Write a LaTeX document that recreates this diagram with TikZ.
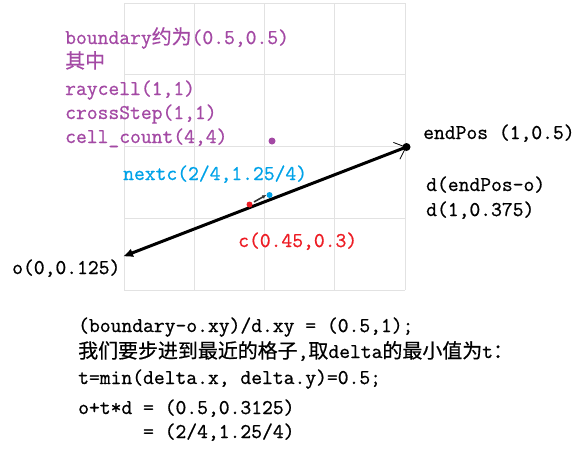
\documentclass[tikz,border=0pt]{standalone}
\usepackage{fontspec}
\usepackage{tikz}
\usetikzlibrary{arrows.meta,calc}
\setmonofont{Latin Modern Mono}[FakeBold=0.8]
\newfontfamily\cjk{Noto Sans CJK SC}[Scale=0.95,FakeBold=0.6]
\newcommand{\zh}[1]{{\cjk #1}}
\definecolor{labelpurple}{HTML}{A349A4}
\definecolor{labelblue}{HTML}{00A2E8}
\definecolor{labelred}{HTML}{ED1C24}
\definecolor{gridgray}{HTML}{E2E2E2}

\begin{document}
\begin{tikzpicture}[x=1pt,y=-1pt,
  txt/.style={anchor=west,inner sep=0pt,text height=15pt,text depth=5pt,
    font=\ttfamily\fontsize{21}{24}\selectfont},
  gridline/.style={gridgray,line width=0.9pt},
  dot/.style={circle,inner sep=0pt,minimum size=6pt,fill=#1}]
  \useasboundingbox (0,0) rectangle (576,453);

  % grid 4x4
  \foreach \i in {0,...,4}
    \draw[gridline] ({124+70.25*\i},3) -- ({124+70.25*\i},290);
  \foreach \j in {0,...,4}
    \draw[gridline] (124,{3+71.75*\j}) -- (405,{3+71.75*\j});

  % ray o -> endPos
  \coordinate (oPt) at (123,256.5);
  \coordinate (endPt) at (406.5,147);
  \draw[line width=3pt,{Latex[length=10pt,width=9pt]}-] (oPt) -- (endPt);
  \draw[line width=0.8pt,-{Straight Barb[length=10pt,width=18pt,line width=0.8pt]}]
    ($(oPt)!0.93!(endPt)$) -- (endPt);
  \node[dot=black,minimum size=8pt] (endDot) at (endPt) {};

  % points
  \node[dot=labelpurple,minimum size=7pt] (bndPt) at (272,141) {};
  \node[dot=labelred] (cPt) at (249.5,204.5) {};
  \node[dot=labelblue] (nextPt) at (269.5,195) {};
  \draw[line width=1.6pt,black!80,-{Latex[length=4pt,width=4pt]},shorten <=2pt]
    (cPt) -- (nextPt.west);

  % labels
  \begin{scope}[labelpurple]
    \node[txt] (bnd1) at (65,39) {boundary\zh{约为}(0.5,0.5)};
    \node[txt] (bnd2) at (65,63) {\zh{其中}};
    \node[txt] (bnd3) at (65,90) {raycell(1,1)};
    \node[txt] (bnd4) at (65,114) {crossStep(1,1)};
    \node[txt] (bnd5) at (65,138) {cell\_count(4,4)};
  \end{scope}
  \node[txt,labelblue] (nextLbl) at (123,175) {nextc(2/4,1.25/4)};
  \node[txt,labelred] (cLbl) at (238,242) {c(0.45,0.3)};
  \node[txt] (oLbl) at (12,269) {o(0,0.125)};
  \node[txt] (endLbl) at (423,134) {endPos (1,0.5)};
  \node[txt] (dLbl1) at (426,186) {d(endPos-o)};
  \node[txt] (dLbl2) at (426,211) {d(1,0.375)};

  % calculation
  \node[txt] (calc1) at (78,327) {(boundary-o.xy)/d.xy = (0.5,1);};
  \node[txt] (calc2) at (78,353) {\zh{我们要步进到最近的格子},\zh{取}delta\zh{的最小值为}t\zh{：}};
  \node[txt] (calc3) at (78,379) {t=min(delta.x, delta.y)=0.5;};
  \node[txt] (calc4) at (78,409) {o+t*d = (0.5,0.3125)};
  \node[txt] (calc5) at (78,433) {\phantom{o+t*d} = (2/4,1.25/4)};
\end{tikzpicture}
\end{document}
